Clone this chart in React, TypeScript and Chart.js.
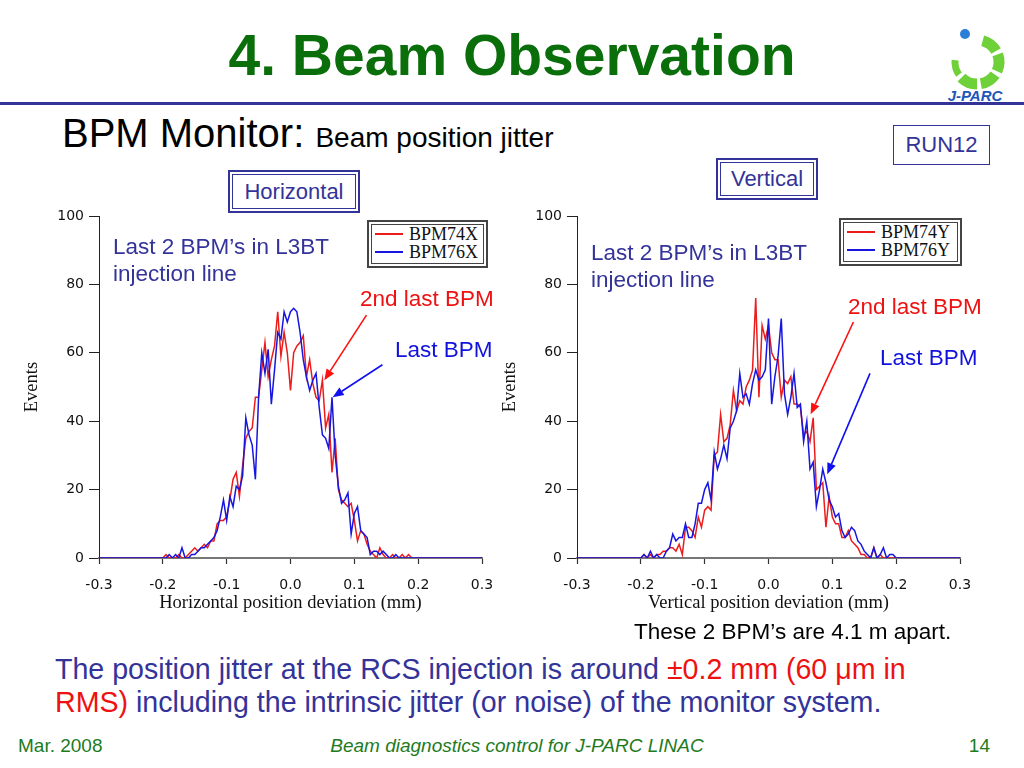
import React, { useEffect, useRef } from "react";
import { Chart, registerables } from "chart.js";

Chart.register(...registerables);

// Bin centres of the position histograms (mm); the outer points carry the empty tails to the axis ends.
const POSITION_MM = [
  -0.3,
  -0.2, -0.195, -0.19, -0.185, -0.18, -0.175, -0.17, -0.165, -0.16, -0.155,
  -0.15, -0.145, -0.14, -0.135, -0.13, -0.125, -0.12, -0.115, -0.11, -0.105,
  -0.1, -0.095, -0.09, -0.085, -0.08, -0.075, -0.07, -0.065, -0.06, -0.055,
  -0.05, -0.045, -0.04, -0.035, -0.03, -0.025, -0.02, -0.015, -0.01, -0.005,
  0, 0.005, 0.01, 0.015, 0.02, 0.025, 0.03, 0.035, 0.04, 0.045,
  0.05, 0.055, 0.06, 0.065, 0.07, 0.075, 0.08, 0.085, 0.09, 0.095,
  0.1, 0.105, 0.11, 0.115, 0.12, 0.125, 0.13, 0.135, 0.14, 0.145,
  0.15, 0.155, 0.16, 0.165, 0.17, 0.175, 0.18, 0.185, 0.19, 0.195,
  0.2,
  0.3,
];

// Horizontal plane
const BPM74X = [
  0,
  0, 1, 0, 0, 0, 1, 0, 0, 1, 2,
  3, 2, 3, 4, 3, 5, 5, 10, 11, 11,
  12, 17, 23, 25, 18, 27, 35, 37, 38, 47,
  47, 55, 63, 53, 58, 62, 72, 59, 66, 60,
  49, 60, 62, 63, 65, 53, 58, 51, 47, 46,
  52, 38, 42, 25, 35, 20, 17, 16, 15, 16,
  11, 5, 8, 7, 4, 2, 1, 0, 3, 1,
  0, 0, 1, 0, 0, 1, 0, 1, 0, 0,
  0,
  0,
];
const BPM76X = [
  0,
  0, 0, 1, 0, 1, 0, 3, 0, 0, 1,
  1, 2, 3, 3, 4, 5, 6, 8, 12, 17,
  11, 18, 15, 21, 20, 24, 41, 36, 33, 23,
  47, 60, 54, 61, 45, 55, 66, 64, 72, 69,
  72, 73, 72, 66, 58, 53, 49, 52, 54, 44,
  36, 35, 32, 47, 30, 21, 16, 17, 19, 7,
  13, 15, 8, 7, 6, 1, 2, 2, 1, 2,
  1, 0, 0, 1, 0, 0, 0, 0, 0, 0,
  0,
  0,
];

// Vertical plane
const BPM74Y = [
  0,
  0, 1, 0, 1, 0, 1, 1, 2, 2, 3,
  3, 2, 4, 1, 9, 9, 8, 6, 12, 9,
  14, 15, 14, 30, 31, 42, 34, 35, 39, 49,
  43, 46, 45, 50, 52, 55, 76, 47, 68, 64,
  68, 60, 58, 58, 47, 52, 51, 53, 45, 45,
  44, 36, 37, 34, 41, 20, 21, 22, 9, 18,
  12, 10, 10, 6, 6, 8, 5, 4, 3, 1,
  1, 0, 0, 3, 0, 1, 0, 0, 0, 0,
  0,
  0,
];
const BPM76Y = [
  0,
  0, 1, 0, 2, 0, 1, 0, 0, 2, 3,
  7, 5, 6, 6, 10, 6, 6, 10, 16, 16,
  20, 22, 17, 31, 26, 29, 33, 29, 38, 40,
  43, 54, 47, 48, 45, 51, 55, 52, 53, 55,
  70, 45, 53, 59, 70, 48, 42, 47, 54, 44,
  45, 34, 40, 26, 28, 15, 20, 26, 22, 17,
  15, 12, 13, 8, 6, 7, 9, 8, 5, 4,
  2, 1, 0, 3, 0, 1, 3, 0, 1, 1,
  0,
  0,
];

const X_RANGE = [-0.3, 0.3];
const X_STEP = 0.1;
const Y_RANGE = [0, 100];
const Y_STEP = 20;

// Annotation arrows, anchored in data space: [position mm, events]
const ARROWS_H = [
  { from: [0.119, 71], to: [0.053, 52], color: "#ff1010" },
  { from: [0.144, 56.5], to: [0.066, 47], color: "#1010f0" },
];
const ARROWS_V = [
  { from: [0.133, 69], to: [0.066, 42], color: "#ff1010" },
  { from: [0.159, 54], to: [0.092, 24.5], color: "#1010f0" },
];

const RED = "#ec1c1c";
const BLUE = "#1616e0";
const SLATE = "#333399";

const arrowPlugin = {
  id: "arrows",
  afterDatasetsDraw(chart: any, _args: any, opts: any) {
    const { ctx, scales } = chart;
    const xs = scales.x;
    const ys = scales.y;
    (opts.items || []).forEach((a: any) => {
      const x1 = xs.getPixelForValue(a.from[0]);
      const y1 = ys.getPixelForValue(a.from[1]);
      const x2 = xs.getPixelForValue(a.to[0]);
      const y2 = ys.getPixelForValue(a.to[1]);
      const ang = Math.atan2(y2 - y1, x2 - x1);
      const head = 11;
      const half = 4.5;
      const c = Math.cos(ang);
      const s = Math.sin(ang);
      ctx.save();
      ctx.strokeStyle = a.color;
      ctx.fillStyle = a.color;
      ctx.lineWidth = 1.6;
      ctx.beginPath();
      ctx.moveTo(x1, y1);
      ctx.lineTo(x2 - head * c, y2 - head * s);
      ctx.stroke();
      ctx.beginPath();
      ctx.moveTo(x2, y2);
      ctx.lineTo(x2 - head * c + half * s, y2 - head * s - half * c);
      ctx.lineTo(x2 - head * c - half * s, y2 - head * s + half * c);
      ctx.closePath();
      ctx.fill();
      ctx.restore();
    });
  },
};

type HistProps = {
  left: number;
  top: number;
  width: number;
  height: number;
  yAxisWidth: number;
  padRight: number;
  yTitlePad: number;
  xTitle: string;
  red: number[];
  blue: number[];
  redLabel: string;
  blueLabel: string;
  arrows: any[];
};

function Histogram(p: HistProps) {
  const ref = useRef<HTMLCanvasElement>(null);
  useEffect(() => {
    const tickFont = { family: '"DejaVu Sans", sans-serif', size: 14 };
    const titleFont = { family: '"Liberation Serif", "Times New Roman", serif', size: 18.5 };
    const chart = new Chart(ref.current as HTMLCanvasElement, {
      type: "line",
      data: {
        datasets: [
          {
            label: p.redLabel,
            data: POSITION_MM.map((x, i) => ({ x, y: p.red[i] })),
            borderColor: RED,
            borderWidth: 1.5,
            pointRadius: 0,
            tension: 0,
            order: 1,
          },
          {
            label: p.blueLabel,
            data: POSITION_MM.map((x, i) => ({ x, y: p.blue[i] })),
            borderColor: BLUE,
            borderWidth: 1.5,
            pointRadius: 0,
            tension: 0,
            order: 0,
          },
        ],
      },
      options: {
        responsive: false,
        animation: false,
        events: [],
        layout: { padding: { left: 0, right: p.padRight, top: 16, bottom: 0 } },
        plugins: {
          legend: { display: false },
          tooltip: { enabled: false },
          arrows: { items: p.arrows },
        } as any,
        scales: {
          x: {
            type: "linear",
            min: X_RANGE[0],
            max: X_RANGE[1],
            afterFit: (s: any) => {
              s.height = 72;
            },
            ticks: {
              stepSize: X_STEP,
              maxRotation: 0,
              padding: 13,
              font: tickFont,
              color: "#111",
              callback: (v: any) => (Math.round(Number(v) * 10) / 10).toFixed(1),
            },
            grid: { drawOnChartArea: false, tickLength: 6, tickColor: "#333", tickWidth: 1.2 },
            border: { display: true, color: "#777", width: 2 },
            title: {
              display: true,
              text: p.xTitle,
              font: titleFont,
              color: "#111",
              padding: { top: 0, bottom: 16 },
            },
          },
          y: {
            min: Y_RANGE[0],
            max: Y_RANGE[1],
            afterFit: (s: any) => {
              s.width = p.yAxisWidth;
            },
            ticks: { stepSize: Y_STEP, padding: 5, font: tickFont, color: "#111" },
            grid: { drawOnChartArea: false, tickLength: 10, tickColor: "#222", tickWidth: 1 },
            border: { display: true, color: "#222", width: 1 },
            title: {
              display: true,
              text: "Events",
              font: titleFont,
              color: "#111",
              padding: { top: p.yTitlePad, bottom: 0 },
            },
          },
        },
      } as any,
      plugins: [arrowPlugin as any],
    });
    return () => chart.destroy();
  }, []);
  return (
    <canvas
      ref={ref}
      width={p.width}
      height={p.height}
      style={{ position: "absolute", left: p.left, top: p.top, width: p.width, height: p.height }}
    />
  );
}

function T(props: { left?: number; right?: number; top: number; size: number; color: string; children: any; style?: any }) {
  return (
    <div
      style={{
        position: "absolute",
        left: props.left,
        right: props.right,
        top: props.top,
        fontSize: props.size,
        lineHeight: 1,
        color: props.color,
        whiteSpace: "nowrap",
        ...(props.style || {}),
      }}
    >
      {props.children}
    </div>
  );
}

function DoubleBox(props: { left: number; top: number; width: number; height: number; color: string; children: any; style?: any }) {
  return (
    <div
      style={{
        position: "absolute",
        left: props.left,
        top: props.top,
        width: props.width,
        height: props.height,
        boxSizing: "border-box",
        border: `2px solid ${props.color}`,
        padding: 2,
        background: "#fff",
      }}
    >
      <div
        style={{
          width: "100%",
          height: "100%",
          boxSizing: "border-box",
          border: `1px solid ${props.color}`,
          position: "relative",
          ...(props.style || {}),
        }}
      >
        {props.children}
      </div>
    </div>
  );
}

function Legend(props: { left: number; top: number; width: number; red: string; blue: string }) {
  const row = (color: string, label: string, y: number) => (
    <div style={{ position: "absolute", left: 0, top: y, height: 18, width: "100%" }}>
      <div style={{ position: "absolute", left: 3, top: 8, width: 28, height: 1.5, background: color }} />
      <div
        style={{
          position: "absolute",
          left: 37,
          top: 0,
          fontFamily: '"Liberation Serif", "Times New Roman", serif',
          fontSize: 18,
          lineHeight: "18px",
          color: "#111",
        }}
      >
        {label}
      </div>
    </div>
  );
  return (
    <DoubleBox left={props.left} top={props.top} width={props.width} height={48} color="#444">
      {row(RED, props.red, 0)}
      {row(BLUE, props.blue, 18)}
    </DoubleBox>
  );
}

function arcPath(cx: number, cy: number, r: number, a0: number, a1: number) {
  const rad = (d: number) => (d * Math.PI) / 180;
  const x0 = cx + r * Math.cos(rad(a0));
  const y0 = cy + r * Math.sin(rad(a0));
  const x1 = cx + r * Math.cos(rad(a1));
  const y1 = cy + r * Math.sin(rad(a1));
  return `M ${x0} ${y0} A ${r} ${r} 0 0 1 ${x1} ${y1}`;
}

const LOGO_SEGMENTS = [
  [-75, -30],
  [-20, 25],
  [35, 80],
  [90, 135],
  [145, 185],
];

function Logo() {
  return (
    <svg style={{ position: "absolute", left: 935, top: 12 }} width={80} height={92}>
      {LOGO_SEGMENTS.map((s, i) => (
        <path key={i} d={arcPath(42, 50, 22, s[0], s[1])} stroke="#6fd13a" strokeWidth={i === 4 ? 7 : 11} fill="none" />
      ))}
      <circle cx={30} cy={22} r={5} fill="#2b7fd8" />
      <text
        x={40}
        y={89}
        textAnchor="middle"
        fontFamily='"Liberation Sans", Arial, sans-serif'
        fontStyle="italic"
        fontWeight="bold"
        fontSize={15}
        fill="#2156b8"
      >
        J-PARC
      </text>
    </svg>
  );
}

export default function App() {
  useEffect(() => {
    document.body.style.margin = "0";
  }, []);
  const sans = '"Liberation Sans", Arial, Helvetica, sans-serif';
  return (
    <div
      style={{
        position: "absolute",
        left: 0,
        top: 0,
        width: 1024,
        height: 768,
        background: "#fff",
        overflow: "hidden",
        fontFamily: sans,
      }}
    >
      <Histogram
        left={0}
        top={200}
        width={512}
        height={430}
        yAxisWidth={99}
        padRight={30}
        yTitlePad={21}
        xTitle="Horizontal position deviation (mm)"
        red={BPM74X}
        blue={BPM76X}
        redLabel="BPM74X"
        blueLabel="BPM76X"
        arrows={ARROWS_H}
      />
      <Histogram
        left={470}
        top={200}
        width={554}
        height={430}
        yAxisWidth={107}
        padRight={64}
        yTitlePad={29}
        xTitle="Vertical position deviation (mm)"
        red={BPM74Y}
        blue={BPM76Y}
        redLabel="BPM74Y"
        blueLabel="BPM76Y"
        arrows={ARROWS_V}
      />

      {/* Title */}
      <div
        style={{
          position: "absolute",
          left: 0,
          top: 27,
          width: 1024,
          textAlign: "center",
          fontSize: 57,
          fontWeight: "bold",
          lineHeight: 1,
          color: "#0a6e0a",
        }}
      >
        4. Beam Observation
      </div>
      <Logo />
      <div style={{ position: "absolute", left: 0, top: 102, width: 1024, height: 3, background: SLATE }} />

      <T left={62} top={113} size={40} color="#000">
        BPM Monitor: <span style={{ fontSize: 28 }}>Beam position jitter</span>
      </T>

      <div
        style={{
          position: "absolute",
          left: 893,
          top: 125,
          width: 97,
          height: 40,
          boxSizing: "border-box",
          border: `1px solid ${SLATE}`,
          color: SLATE,
          fontSize: 22,
          lineHeight: "38px",
          textAlign: "center",
        }}
      >
        RUN12
      </div>

      <DoubleBox left={228} top={170} width={132} height={43} color={SLATE} style={{ textAlign: "center", color: SLATE, fontSize: 22, lineHeight: "33px" }}>
        Horizontal
      </DoubleBox>
      <DoubleBox left={716} top={158} width={102} height={42} color={SLATE} style={{ textAlign: "center", color: SLATE, fontSize: 22, lineHeight: "32px" }}>
        Vertical
      </DoubleBox>

      <Legend left={367} top={220} width={121} red="BPM74X" blue="BPM76X" />
      <Legend left={839} top={218} width={123} red="BPM74Y" blue="BPM76Y" />

      <T left={113} top={233} size={22.5} color={SLATE} style={{ lineHeight: "27px" }}>
        Last 2 BPM’s in L3BT
        <br />
        injection line
      </T>
      <T left={591} top={239} size={22.5} color={SLATE} style={{ lineHeight: "27px" }}>
        Last 2 BPM’s in L3BT
        <br />
        injection line
      </T>

      <T left={360} top={288} size={22.5} color="#ee1111">
        2nd last BPM
      </T>
      <T left={395} top={339} size={22.5} color="#1111dd">
        Last BPM
      </T>
      <T left={848} top={296} size={22.5} color="#ee1111">
        2nd last BPM
      </T>
      <T left={880} top={347} size={22.5} color="#1111dd">
        Last BPM
      </T>

      <T left={634} top={621} size={22.5} color="#000">
        These 2 BPM’s are 4.1 m apart.
      </T>

      <T left={55} top={653} size={28.6} color={SLATE} style={{ lineHeight: "33px" }}>
        The position jitter at the RCS injection is around{" "}
        <span style={{ color: "#ee1111" }}>±0.2 mm (60 μm in</span>
        <br />
        <span style={{ color: "#ee1111" }}>RMS)</span> including the intrinsic jitter (or noise) of the monitor system.
      </T>

      <T left={18} top={736} size={19} color="#1e7b1e">
        Mar. 2008
      </T>
      <div
        style={{
          position: "absolute",
          left: 0,
          width: 1034,
          top: 736,
          textAlign: "center",
          fontSize: 19,
          lineHeight: 1,
          fontStyle: "italic",
          color: "#1e7b1e",
        }}
      >
        Beam diagnostics control for J-PARC LINAC
      </div>
      <T right={34} top={736} size={19} color="#1e7b1e">
        14
      </T>
    </div>
  );
}
